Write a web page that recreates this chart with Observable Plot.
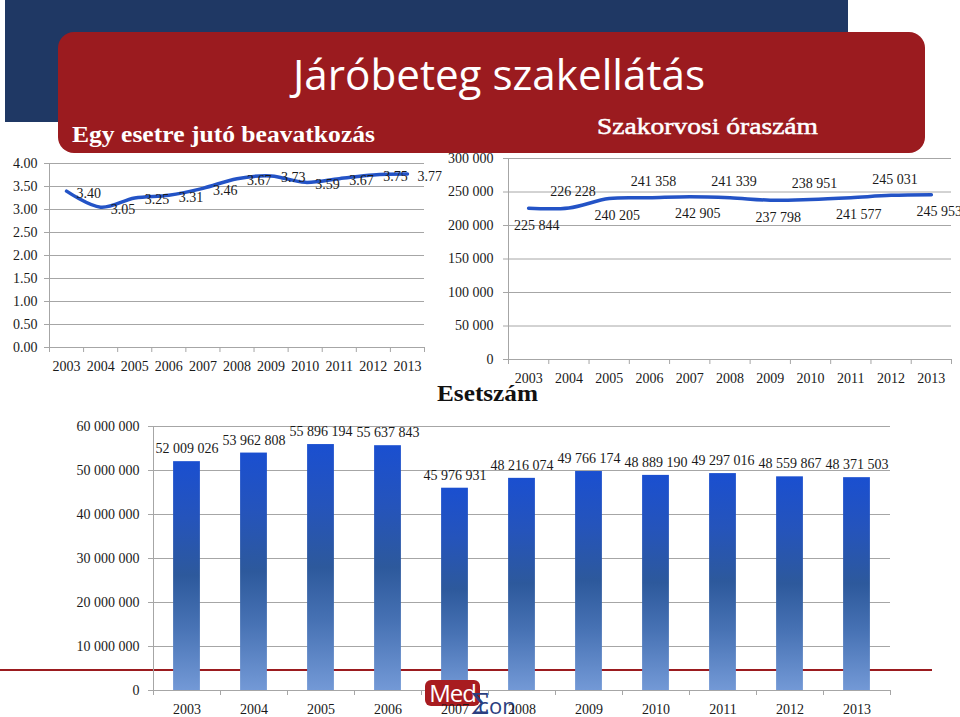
<!DOCTYPE html>
<html>
<head>
<meta charset="utf-8">
<script src="https://cdn.jsdelivr.net/npm/d3@7"></script>
<script src="https://cdn.jsdelivr.net/npm/@observablehq/plot@0.6"></script>
<style>
  html, body { margin: 0; padding: 0; background: #fff; }
  #page { position: relative; width: 960px; height: 717px; overflow: hidden; background: #fff; }
  #page > * { position: absolute; }
  #deco { z-index: 0; }
  .chart { z-index: 1; }
  .chart svg { overflow: visible; }
</style>
</head>
<body>
<div id="page">
  <svg id="deco" width="960" height="717" style="left:0;top:0;">
    <rect x="5" y="0" width="843" height="122" fill="#1f3864"/>
    <rect x="58" y="32" width="867" height="121" rx="16" ry="16" fill="#9b1b1f"/>
    <text x="293" y="90" fill="#fff" font-family="Open Sans" font-size="42" textLength="412" lengthAdjust="spacingAndGlyphs">Járóbeteg szakellátás</text>
    <text x="72" y="142" fill="#fff" font-family="Liberation Serif" font-weight="bold" font-size="23" textLength="303" lengthAdjust="spacingAndGlyphs">Egy esetre jutó beavatkozás</text>
    <text x="597" y="134" fill="#fff" stroke="#fff" stroke-width="0.5" font-family="Liberation Serif" font-size="23" textLength="221" lengthAdjust="spacingAndGlyphs">Szakorvosi óraszám</text>
    <text x="437" y="401" fill="#111" font-family="Liberation Serif" font-weight="bold" font-size="24" textLength="101" lengthAdjust="spacingAndGlyphs">Esetszám</text>
  </svg>
  <div id="c1" class="chart" style="left:0;top:150px;"></div>
  <div id="c2" class="chart" style="left:440px;top:150px;"></div>
  <div id="c3" class="chart" style="left:0;top:410px;"></div>
</div>
<script>
// ---- data ----
const years = [2003, 2004, 2005, 2006, 2007, 2008, 2009, 2010, 2011, 2012, 2013];
const beavatkozas = [3.40, 3.05, 3.25, 3.31, 3.46, 3.67, 3.73, 3.59, 3.67, 3.75, 3.77];
const oraszam = [225844, 226228, 240205, 241358, 242905, 241339, 237798, 238951, 241577, 245031, 245953];
const esetszam = [52009026, 53962808, 55896194, 55637843, 45976931, 48216074, 49766174, 48889190, 49297016, 48559867, 48371503];
const ticks1 = [0, 0.5, 1, 1.5, 2, 2.5, 3, 3.5, 4];
const ticks2 = [0, 50000, 100000, 150000, 200000, 250000, 300000];
const ticks3 = [0, 10000000, 20000000, 30000000, 40000000, 50000000, 60000000];

const fmtSpace = d3.formatLocale({decimal: ".", thousands: " ", grouping: [3], currency: ["", ""]}).format(",d");
const fmt2 = d3.format(".2f");
const GRID = "#a6a6a6";
const BLUE = "#2353c6";
const xDomain = [years[0] - 0.5, years[years.length - 1] + 0.5];
const bounds = years.map(y => y - 0.5).concat([years[years.length - 1] + 0.5]);
const style = {fontFamily: "Liberation Serif", fontSize: "14px", color: "#1a1a1a", background: "transparent", overflow: "visible"};

function frameMarks(yTicks, yFmt, padY) {
  return [
    Plot.gridY(yTicks, {stroke: GRID, strokeOpacity: 1}),
    Plot.axisY(yTicks, {tickSize: 5, tickPadding: padY, tickFormat: yFmt, stroke: GRID, strokeOpacity: 1, label: null}),
    Plot.ruleX([xDomain[0]], {stroke: GRID}),
    Plot.ruleY([0], {stroke: GRID}),
    Plot.axisX(bounds, {tickSize: 5, tickFormat: () => "", stroke: GRID, strokeOpacity: 1, label: null}),
    Plot.axisX(years, {tickSize: 0, tickPadding: 14, tickFormat: d => String(d), label: null})
  ];
}

// ---- chart 1: Egy esetre jutó beavatkozás ----
const d1 = years.map((y, i) => ({year: y, v: beavatkozas[i]}));
const p1 = Plot.plot({
  width: 440, height: 230,
  marginLeft: 49, marginRight: 16, marginTop: 13, marginBottom: 33,
  style,
  x: {domain: xDomain, label: null},
  y: {domain: [0, 4], label: null},
  marks: [
    ...frameMarks(ticks1, fmt2, 7),
    Plot.line(d1, {x: "year", y: "v", stroke: BLUE, strokeWidth: 3.5, curve: "catmull-rom"}),
    Plot.text(d1, {x: "year", y: "v", text: d => fmt2(d.v), textAnchor: "start", dx: 10, dy: 2, fill: "#1a1a1a"})
  ]
});
document.getElementById("c1").appendChild(p1);

// ---- chart 2: Szakorvosi óraszám ----
const d2 = years.map((y, i) => ({year: y, v: oraszam[i]}));
const p2 = Plot.plot({
  width: 520, height: 240,
  marginLeft: 68, marginRight: 9, marginTop: 8, marginBottom: 31,
  style,
  x: {domain: xDomain, label: null},
  y: {domain: [0, 300000], label: null},
  marks: [
    ...frameMarks(ticks2, fmtSpace, 10),
    Plot.line(d2, {x: "year", y: "v", stroke: BLUE, strokeWidth: 3.5, curve: "catmull-rom"}),
    Plot.text(d2, {filter: (d, i) => i % 2 === 0, x: "year", y: "v", text: d => fmtSpace(d.v), dx: 8, dy: 17, fill: "#1a1a1a"}),
    Plot.text(d2, {filter: (d, i) => i % 2 === 1, x: "year", y: "v", text: d => fmtSpace(d.v), dx: 4, dy: -16, fill: "#1a1a1a"})
  ]
});
document.getElementById("c2").appendChild(p2);

// ---- chart 3: Esetszám ----
const d3data = years.map((y, i) => ({year: y, v: esetszam[i]}));
const p3 = Plot.plot({
  width: 960, height: 307,
  marginLeft: 153, marginRight: 70, marginTop: 16, marginBottom: 27,
  style,
  x: {domain: xDomain, label: null},
  y: {domain: [0, 60000000], label: null},
  marks: [
    ...frameMarks(ticks3, fmtSpace, 9),
    Plot.rectY(d3data, {x1: d => d.year - 0.2, x2: d => d.year + 0.2, y: "v", fill: "url(#barGrad)"}),
    Plot.text(d3data, {x: "year", y: "v", text: d => fmtSpace(d.v), dy: -13, fill: "#1a1a1a"})
  ]
});
const s3 = d3.select(p3);
const defs = s3.insert("defs", ":first-child");
const grad = defs.append("linearGradient").attr("id", "barGrad").attr("x1", 0).attr("x2", 0).attr("y1", 0).attr("y2", 1);
[[0, "#1a4fd0"], [0.25, "#2554bb"], [0.5, "#2d599c"], [0.72, "#4772b4"], [1, "#7399d6"]]
  .forEach(([o, c]) => grad.append("stop").attr("offset", o).attr("stop-color", c));
// decorative red rule behind the bars (page y = 670)
s3.insert("line", "defs + *").attr("x1", 0).attr("x2", 932).attr("y1", 260).attr("y2", 260)
  .attr("stroke", "#9b1b1f").attr("stroke-width", 2);
// logo (decoration), placed under the year labels
const logo = s3.append("g").attr("class", "logo");
logo.append("rect").attr("x", 425).attr("y", 270).attr("width", 55).attr("height", 26).attr("rx", 6).attr("fill", "#a81c20");
logo.append("text").attr("x", 452.5).attr("y", 292).attr("text-anchor", "middle").attr("fill", "#ffffff")
  .style("font-family", "Open Sans").style("font-size", "24px").style("letter-spacing", "-1px").text("Med");
logo.append("text").attr("x", 480).attr("y", 304).attr("fill", "#2b3f80")
  .style("font-family", "DejaVu Serif").style("font-size", "27px").text("Σ");
logo.append("text").attr("x", 497).attr("y", 304).attr("fill", "#2b3f80")
  .style("font-family", "Open Sans").style("font-size", "22px").text("con");
const labelGroups = p3.querySelectorAll('g[aria-label="x-axis tick label"]');
if (labelGroups.length) p3.appendChild(labelGroups[labelGroups.length - 1]);
document.getElementById("c3").appendChild(p3);
</script>
</body>
</html>
